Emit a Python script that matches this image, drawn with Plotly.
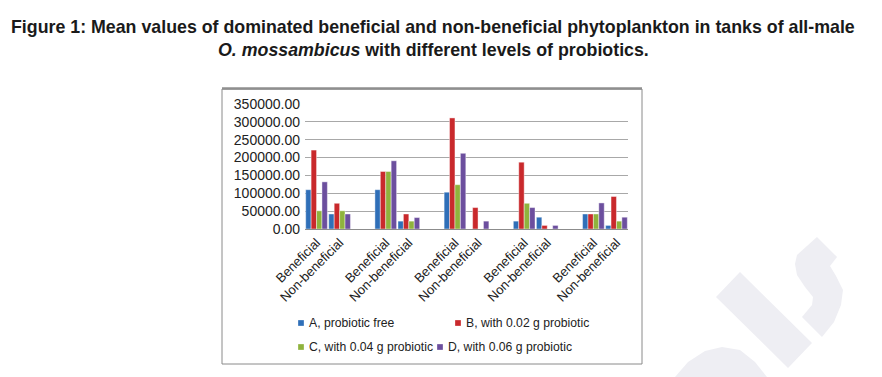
import plotly.graph_objects as go

# ---- data ----
categories = ["Beneficial", "Non-beneficial", "",
              "Beneficial", "Non-beneficial", "",
              "Beneficial", "Non-beneficial", "",
              "Beneficial", "Non-beneficial", "",
              "Beneficial", "Non-beneficial"]
series_names = ["A, probiotic free", "B, with 0.02 g probiotic",
                "C, with 0.04 g probiotic", "D, with 0.06 g probiotic"]
vals_A = [110000, 42000, None, 110000, 22000, None, 103000, 0, None, 22000, 33000, None, 42000, 10000]
vals_B = [221000, 72000, None, 161000, 42000, None, 311000, 60000, None, 187000, 10000, None, 42000, 91000]
vals_C = [51000, 51000, None, 161000, 22000, None, 124000, 0, None, 72000, 0, None, 42000, 22000]
vals_D = [132000, 42000, None, 191000, 32000, None, 212000, 22000, None, 60000, 10000, None, 73000, 33000]
y_ticks = [0, 50000, 100000, 150000, 200000, 250000, 300000, 350000]

colors = ["#2f6fb8", "#c9292c", "#8fb33d", "#6c4f9e"]
all_vals = [vals_A, vals_B, vals_C, vals_D]

# ---- layout geometry (pixels) ----
W, H = 882, 377
L, R, T, B = 305, 628, 104, 229
PW, PH = R - L, B - T


def px(x):
    return (x - L) / PW


def py(y):
    return (B - y) / PH


positions = list(range(len(categories)))
fig = go.Figure()
for name, vals, col in zip(series_names, all_vals, colors):
    fig.add_trace(go.Bar(
        x=positions, y=vals, name=name, showlegend=False,
        marker=dict(color=col, line=dict(color="rgba(255,255,255,0.7)", width=0.6)),
    ))

tickvals = [i for i, c in enumerate(categories) if c]
ticktext = [c for c in categories if c]

shapes = []
# watermark shapes (decorative)
wm = "#eeeef3"


def poly(points):
    s = "M " + " L ".join(f"{px(x):.4f},{py(y):.4f}" for x, y in points) + " Z"
    return s


wm_polys = [
    [(716, 297), (740, 272), (812, 343), (788, 368)],
    [(817, 237), (837, 257), (830, 266), (836, 276), (843, 290), (841, 305), (834, 322),
     (822, 337), (802, 317), (812, 305), (813, 297), (805, 287), (797, 275), (795, 264), (797, 255)],
    [(675, 377), (688, 362), (705, 351), (722, 347), (740, 350), (755, 362), (767, 377)],
]
for p in wm_polys:
    shapes.append(dict(type="path", xref="paper", yref="paper", path=poly(p),
                       fillcolor=wm, line=dict(width=0), layer="below"))

# chart box
shapes.append(dict(type="rect", xref="paper", yref="paper",
                   x0=px(222), x1=px(642), y0=py(364), y1=py(89),
                   line=dict(color="#8a8a8a", width=1), layer="below"))
shapes.append(dict(type="line", xref="paper", yref="paper",
                   x0=px(222), x1=px(642), y0=py(88.5), y1=py(88.5),
                   line=dict(color="#8f8f8f", width=2.5), layer="below"))

annotations = []
title_font = dict(family="Liberation Sans, Arial, sans-serif", size=17.8, color="#1a1a1a")
annotations.append(dict(
    text="<b>Figure 1: Mean values of dominated beneficial and non-beneficial phytoplankton in tanks of all-male</b>",
    xref="paper", yref="paper", x=px(433), y=py(27), xanchor="center", yanchor="middle",
    showarrow=False, font=title_font))
annotations.append(dict(
    text="<b><i>O. mossambicus</i> with different levels of probiotics.</b>",
    xref="paper", yref="paper", x=px(433), y=py(50), xanchor="center", yanchor="middle",
    showarrow=False, font=title_font))

# legend (2 x 2)
leg_pos = [(301, 323), (458, 323), (301, 347), (440, 347)]
for (lx, ly), name, col in zip(leg_pos, series_names, colors):
    shapes.append(dict(type="rect", xref="paper", yref="paper",
                       x0=px(lx - 3), x1=px(lx + 3), y0=py(ly + 3), y1=py(ly - 3),
                       fillcolor=col, line=dict(color="rgba(255,255,255,0.6)", width=0.5)))
    annotations.append(dict(text=name, xref="paper", yref="paper",
                            x=px(lx + 6), y=py(ly), xanchor="left", yanchor="middle",
                            showarrow=False,
                            font=dict(family="Liberation Sans, Arial, sans-serif", size=12.2, color="#222")))

fig.update_layout(
    width=W, height=H,
    margin=dict(l=L, r=W - R, t=T, b=H - B, autoexpand=False),
    paper_bgcolor="white", plot_bgcolor="white",
    barmode="group", bargap=0.06, bargroupgap=0.0,
    showlegend=False,
    shapes=shapes, annotations=annotations,
    font=dict(family="Liberation Sans, Arial, sans-serif", color="#222"),
    xaxis=dict(range=[-0.5, len(categories) - 0.5], tickvals=tickvals, ticktext=ticktext,
               tickangle=-45, tickfont=dict(size=13, color="#222"),
               showgrid=False, zeroline=False, showline=True, linecolor="#8c8c8c",
               linewidth=1, ticks=""),
    yaxis=dict(range=[0, 350000], tickvals=y_ticks, tickformat=".2f",
               tickfont=dict(size=14, color="#222"),
               showgrid=True, gridcolor="#a8a8a8", gridwidth=1,
               zeroline=False, showline=False, ticks="", ticklabelstandoff=4),
)

fig.write_html("out.html", config={"displayModeBar": False})
with open("out.html", "r", encoding="utf-8") as f:
    html = f.read()
html = html.replace("<head>", "<head><style>html,body{margin:0;padding:0;overflow:hidden;}</style>", 1)
with open("out.html", "w", encoding="utf-8") as f:
    f.write(html)
